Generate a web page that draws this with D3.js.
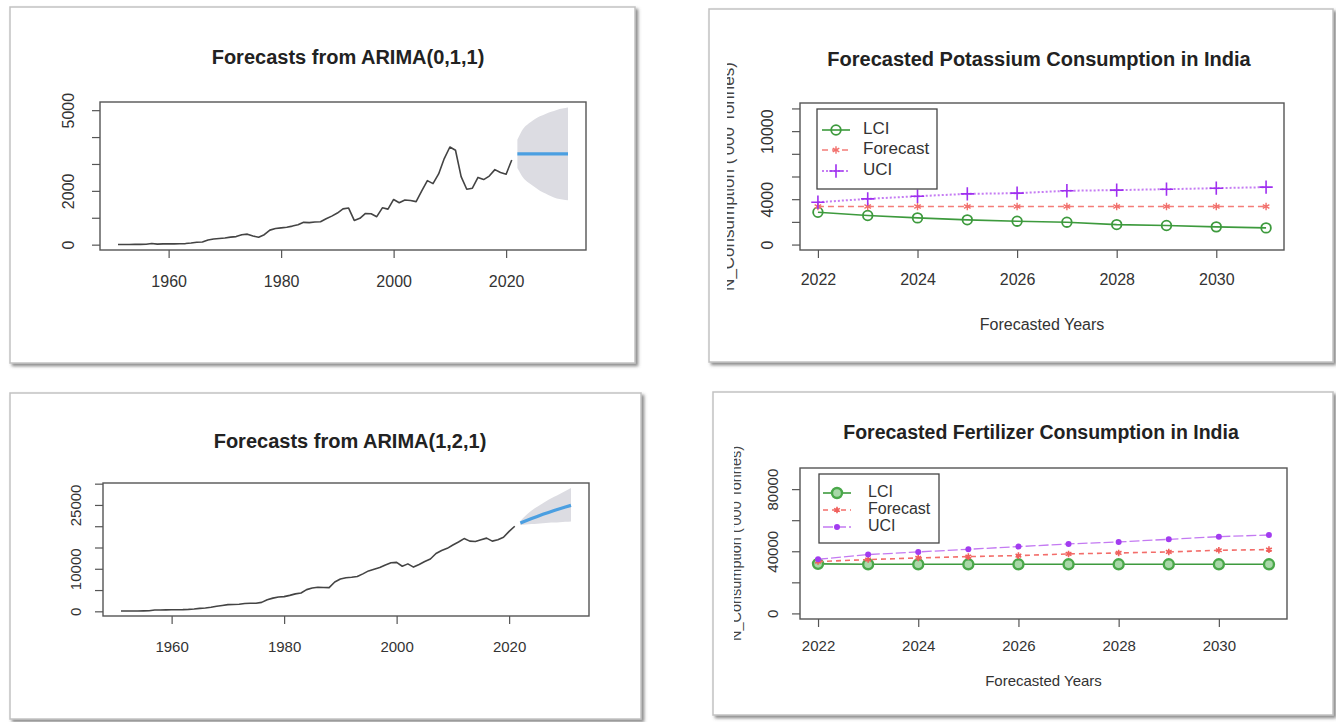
<!DOCTYPE html>
<html>
<head>
<meta charset="utf-8">
<script src="https://cdn.jsdelivr.net/npm/d3@7"></script>
<style>
  body { margin: 0; background: #fff; }
  text { font-family: "Liberation Sans", Arial, Helvetica, sans-serif; }
</style>
</head>
<body>
<svg id="chart" width="1336" height="722"></svg>
<script>
// ---- data ----
const histYears = d3.range(1951, 2022);
const fcYears = d3.range(2022, 2032);

// potassium consumption ('000 t), 1951-2021
const potashHist = [
  5, 5, 8, 10, 12, 15, 45, 20, 30, 30,
  30, 32, 40, 60, 90, 100, 170, 210, 230, 250,
  280, 300, 370, 390, 320, 275, 370, 540, 600, 625,
  650, 690, 740, 830, 820, 840, 850, 960, 1060, 1175,
  1330, 1360, 900, 980, 1160, 1150, 1040, 1370, 1320, 1680,
  1560, 1660, 1640, 1600, 2000, 2380, 2270, 2630, 3200, 3630,
  3510, 2530, 2060, 2100, 2500, 2420, 2550, 2790, 2680, 2620,
  3150
];
const potashMean = [3375, 3375, 3375, 3375, 3375, 3375, 3375, 3375, 3375, 3375];
const potashHi = [3900, 4300, 4500, 4650, 4770, 4860, 4940, 5010, 5060, 5100];
const potashLo = [2850, 2500, 2300, 2150, 2000, 1900, 1800, 1720, 1680, 1650];

// nitrogen consumption ('000 t), 1951-2021
const nitroHist = [
  60, 60, 80, 90, 100, 120, 300, 330, 350, 370,
  380, 400, 450, 560, 700, 800, 940, 1180, 1380, 1570,
  1600, 1650, 1830, 1890, 1890, 2100, 2700, 3100, 3380, 3460,
  3750, 4100, 4300, 5100, 5500, 5660, 5600, 5580, 6900, 7600,
  7900, 8000, 8200, 8800, 9500, 9900, 10300, 10900, 11400, 11500,
  10600, 11150, 10400, 11000, 11700, 12300, 13600, 14300, 14800, 15600,
  16300, 17100, 16500, 16400, 16800, 17200, 16500, 16800, 17400, 18800,
  20000
];
const nitroMean = [20750, 21300, 21800, 22300, 22800, 23250, 23700, 24100, 24500, 24900];
const nitroHi = [21200, 22600, 23700, 24600, 25400, 26200, 26900, 27600, 28300, 29000];
const nitroLo = [20300, 20400, 20500, 20600, 20700, 20800, 20850, 20950, 21050, 21130];

// forecast tables (right hand panels)
const potLCI = [2850, 2560, 2350, 2180, 2060, 1970, 1760, 1680, 1560, 1470];
const potForecast = [3350, 3350, 3350, 3350, 3350, 3350, 3350, 3350, 3350, 3350];
const potUCI = [3730, 4030, 4260, 4470, 4530, 4740, 4800, 4880, 4970, 5060];

const fertLCI = [31900, 31600, 31600, 31600, 31600, 31600, 31600, 31600, 31600, 31600];
const fertForecast = [33370, 34650, 35700, 36580, 37220, 38290, 38930, 39570, 40640, 41070];
const fertUCI = [34870, 37860, 39570, 41280, 43000, 44710, 45990, 47700, 49410, 50480];

const seriesNames = ["LCI", "Forecast", "UCI"];

// tick values / labels
const histXTicks = [1960, 1980, 2000, 2020];
const fcXTicks = [2022, 2024, 2026, 2028, 2030];
const potashYTicks = [0, 1000, 2000, 3000, 4000, 5000];
const potashYLabels = [0, 2000, 5000];
const nitroYTicks = [0, 5000, 10000, 15000, 20000, 25000, 30000];
const nitroYLabels = [0, 10000, 25000];
const potYTicks = [0, 2000, 4000, 6000, 8000, 10000, 12000];
const potYLabels = [0, 4000, 10000];
const fertYTicks = [0, 20000, 40000, 60000, 80000];
const fertYLabels = [0, 40000, 80000];

// ---- drawing ----
const svg = d3.select("#chart");
const defs = svg.append("defs");
const shadow = defs.append("filter").attr("id", "shadow")
  .attr("x", "-3%").attr("y", "-3%").attr("width", "108%").attr("height", "108%");
shadow.append("feDropShadow")
  .attr("dx", 2.5).attr("dy", 2.5).attr("stdDeviation", 1.8)
  .attr("flood-color", "#666").attr("flood-opacity", 0.75);

// R style axis extension (4% each side)
const ext = (lo, hi) => { const d = (hi - lo) * 0.04; return [lo - d, hi + d]; };

function frame(x0, y0, x1, y1) {
  svg.append("rect")
    .attr("x", x0).attr("y", y0)
    .attr("width", x1 - x0).attr("height", y1 - y0)
    .attr("fill", "#fff")
    .attr("stroke", "#c2c2c2")
    .attr("stroke-width", 1.5)
    .attr("filter", "url(#shadow)");
}

function axes(g, x, y, box, o) {
  const xa = g.append("g")
    .attr("transform", `translate(0,${box.b})`)
    .call(d3.axisBottom(x).tickValues(o.xTicks).tickFormat(d3.format("d"))
      .tickSize(8).tickSizeOuter(0).tickPadding(o.xPad));
  const ya = g.append("g")
    .attr("transform", `translate(${box.l},0)`)
    .call(d3.axisLeft(y).tickValues(o.yTicks)
      .tickFormat(d => o.yLabels.includes(d) ? String(d) : "")
      .tickSize(8).tickSizeOuter(0));
  [xa, ya].forEach(a => {
    a.select(".domain").remove();
    a.selectAll(".tick line").attr("stroke", "#555").attr("stroke-width", 1.2);
    a.selectAll(".tick text").attr("fill", "#333")
      .style("font-size", o.tickSize + "px");
  });
  ya.selectAll(".tick text")
    .attr("transform", "rotate(-90)")
    .attr("x", 0).attr("y", -o.yGap).attr("dy", 0)
    .attr("text-anchor", "middle");

  g.append("rect")
    .attr("x", box.l).attr("y", box.t)
    .attr("width", box.r - box.l).attr("height", box.b - box.t)
    .attr("fill", "none").attr("stroke", "#555").attr("stroke-width", 1.4);

  g.append("text")
    .attr("x", o.titleX).attr("y", o.titleY)
    .attr("text-anchor", "middle").attr("dominant-baseline", "middle")
    .attr("font-weight", "bold").attr("fill", "#222")
    .style("font-size", o.titleSize + "px")
    .text(o.title);
}

function arimaPanel(o) {
  const box = o.box;
  const g = svg.append("g");
  const x = d3.scaleLinear().domain(ext(1951, 2031)).range([box.l, box.r]);
  const y = d3.scaleLinear()
    .domain(ext(Math.min(d3.min(o.hist), d3.min(o.lo)), d3.max(o.hi)))
    .range([box.b, box.t]);

  const band = fcYears.map((yr, i) => ({ yr, lo: o.lo[i], hi: o.hi[i], m: o.mean[i] }));
  g.append("path").datum(band)
    .attr("fill", "#dcdce2")
    .attr("d", d3.area().x(d => x(d.yr)).y0(d => y(d.lo)).y1(d => y(d.hi)).curve(d3.curveMonotoneX));

  g.append("path").datum(histYears.map((yr, i) => ({ yr, v: o.hist[i] })))
    .attr("fill", "none").attr("stroke", "#444").attr("stroke-width", 1.6)
    .attr("stroke-linejoin", "round")
    .attr("d", d3.line().x(d => x(d.yr)).y(d => y(d.v)));

  g.append("path").datum(band)
    .attr("fill", "none").attr("stroke", "#4b9fe1").attr("stroke-width", 3.2)
    .attr("d", d3.line().x(d => x(d.yr)).y(d => y(d.m)));

  axes(g, x, y, box, o);
}

function marker(sel, type, st) {
  if (type === "circle") {
    sel.append("circle").attr("r", st.r)
      .attr("fill", st.fill || "none").attr("stroke", st.color).attr("stroke-width", st.sw);
  } else if (type === "dot") {
    sel.append("circle").attr("r", st.r).attr("fill", st.color);
  } else {
    const sym = type === "plus" ? d3.symbolPlus : d3.symbolAsterisk;
    sel.append("path").attr("d", d3.symbol().type(sym).size(st.size)())
      .attr("fill", type === "plus" ? st.color : "none")
      .attr("stroke", st.color).attr("stroke-width", st.sw);
  }
}

function ciPanel(o) {
  const box = o.box;
  const g = svg.append("g");
  const x = d3.scaleLinear().domain(ext(2022, 2031)).range([box.l, box.r]);
  const y = d3.scaleLinear().domain(ext(o.ylim[0], o.ylim[1])).range([box.b, box.t]);

  o.series.forEach(s => {
    const pts = fcYears.map((yr, i) => ({ yr, v: s.values[i] }));
    g.append("path").datum(pts)
      .attr("fill", "none").attr("stroke", s.line).attr("stroke-width", s.width)
      .attr("stroke-dasharray", s.dash)
      .attr("d", d3.line().x(d => x(d.yr)).y(d => y(d.v)));
    g.selectAll(null).data(pts).enter().append("g")
      .attr("transform", d => `translate(${x(d.yr)},${y(d.v)})`)
      .each(function () { marker(d3.select(this), s.marker, s.mk); });
  });

  axes(g, x, y, box, o);

  // x label
  g.append("text")
    .attr("x", (box.l + box.r) / 2).attr("y", o.xlabY)
    .attr("text-anchor", "middle").attr("dominant-baseline", "middle")
    .attr("fill", "#333").style("font-size", o.labelSize + "px")
    .text("Forecasted Years");

  // y label, half clipped as in the screenshot
  const cid = "clip" + o.id;
  defs.append("clipPath").attr("id", cid).append("rect")
    .attr("x", o.ylabClip).attr("y", 0).attr("width", 60).attr("height", 722);
  g.append("g").attr("clip-path", `url(#${cid})`)
    .append("text")
    .attr("transform", `translate(${o.ylabX},${(box.t + box.b) / 2}) rotate(-90)`)
    .attr("text-anchor", "middle")
    .attr("fill", "#444").style("font-size", o.ylabSize + "px")
    .text("N_Consumption ('000 Tonnes)");

  // legend
  const L = o.legend;
  const lg = g.append("g");
  lg.append("rect").attr("x", L.x0).attr("y", L.y0)
    .attr("width", L.x1 - L.x0).attr("height", L.y1 - L.y0)
    .attr("fill", "#fff").attr("stroke", "#444").attr("stroke-width", 1.3);
  o.series.forEach((s, i) => {
    const yy = L.rows[i];
    lg.append("line").attr("x1", L.lineX[0]).attr("x2", L.lineX[1])
      .attr("y1", yy).attr("y2", yy)
      .attr("stroke", s.line).attr("stroke-width", s.width).attr("stroke-dasharray", s.dash);
    const m = lg.append("g").attr("transform", `translate(${(L.lineX[0] + L.lineX[1]) / 2},${yy})`);
    marker(m, s.marker, s.mk);
    lg.append("text").attr("x", L.textX).attr("y", yy)
      .attr("dominant-baseline", "middle").attr("fill", "#333")
      .style("font-size", L.size + "px")
      .text(seriesNames[i]);
  });
}

// panel frames
frame(10, 7, 635, 363);
frame(709, 9, 1333, 362);
frame(10, 393, 641, 719);
frame(713, 392, 1333, 715);

arimaPanel({
  box: { l: 100, r: 586, t: 102, b: 250 },
  hist: potashHist, mean: potashMean, lo: potashLo, hi: potashHi,
  xTicks: histXTicks, yTicks: potashYTicks, yLabels: potashYLabels,
  title: "Forecasts from ARIMA(0,1,1)", titleX: 348, titleY: 59, titleSize: 20,
  tickSize: 16, xPad: 18, yGap: 26
});

arimaPanel({
  box: { l: 103, r: 589, t: 483, b: 616 },
  hist: nitroHist, mean: nitroMean, lo: nitroLo, hi: nitroHi,
  xTicks: histXTicks, yTicks: nitroYTicks, yLabels: nitroYLabels,
  title: "Forecasts from ARIMA(1,2,1)", titleX: 350, titleY: 443, titleSize: 20,
  tickSize: 15, xPad: 17, yGap: 22
});

ciPanel({
  id: "pot",
  box: { l: 800, r: 1284, t: 103, b: 250 },
  ylim: [0, 12000], xTicks: fcXTicks, yTicks: potYTicks, yLabels: potYLabels,
  title: "Forecasted Potassium Consumption in India", titleX: 1039, titleY: 61, titleSize: 20,
  tickSize: 16, xPad: 16, yGap: 27, xlabY: 326, labelSize: 16,
  ylabX: 734, ylabClip: 727, ylabSize: 17,
  series: [
    { values: potLCI, line: "#3d9a3d", width: 1.6, dash: null, marker: "circle",
      mk: { r: 4.8, color: "#3d9a3d", sw: 1.8 } },
    { values: potForecast, line: "#f47c78", width: 1.6, dash: "6,4", marker: "asterisk",
      mk: { size: 40, color: "#f2706c", sw: 1.4 } },
    { values: potUCI, line: "#c57cf3", width: 2, dash: "2,2", marker: "plus",
      mk: { size: 60, color: "#9f2ff0", sw: 1.6 } }
  ],
  legend: { x0: 817, y0: 109, x1: 937, y1: 189, rows: [130, 150, 171],
            lineX: [822, 850], textX: 863, size: 17 }
});

ciPanel({
  id: "fert",
  box: { l: 800, r: 1287, t: 468, b: 619 },
  ylim: [0, 90000], xTicks: fcXTicks, yTicks: fertYTicks, yLabels: fertYLabels,
  title: "Forecasted Fertilizer Consumption in India", titleX: 1041, titleY: 434, titleSize: 19.5,
  tickSize: 15, xPad: 13, yGap: 22, xlabY: 682, labelSize: 15,
  ylabX: 741, ylabClip: 734, ylabSize: 14.5,
  series: [
    { values: fertLCI, line: "#3d9a3d", width: 1.6, dash: null, marker: "circle",
      mk: { r: 5, color: "#4aa84a", sw: 2.4, fill: "#a8d8a8" } },
    { values: fertForecast, line: "#f36d6a", width: 1.6, dash: "5,4", marker: "asterisk",
      mk: { size: 30, color: "#f0605c", sw: 1.6 } },
    { values: fertUCI, line: "#c47af2", width: 1.3, dash: "10,3", marker: "dot",
      mk: { r: 3, color: "#a23cf0" } }
  ],
  legend: { x0: 819, y0: 474, x1: 939, y1: 543, rows: [493, 510, 527],
            lineX: [823, 851], textX: 868, size: 16 }
});
</script>
</body>
</html>
